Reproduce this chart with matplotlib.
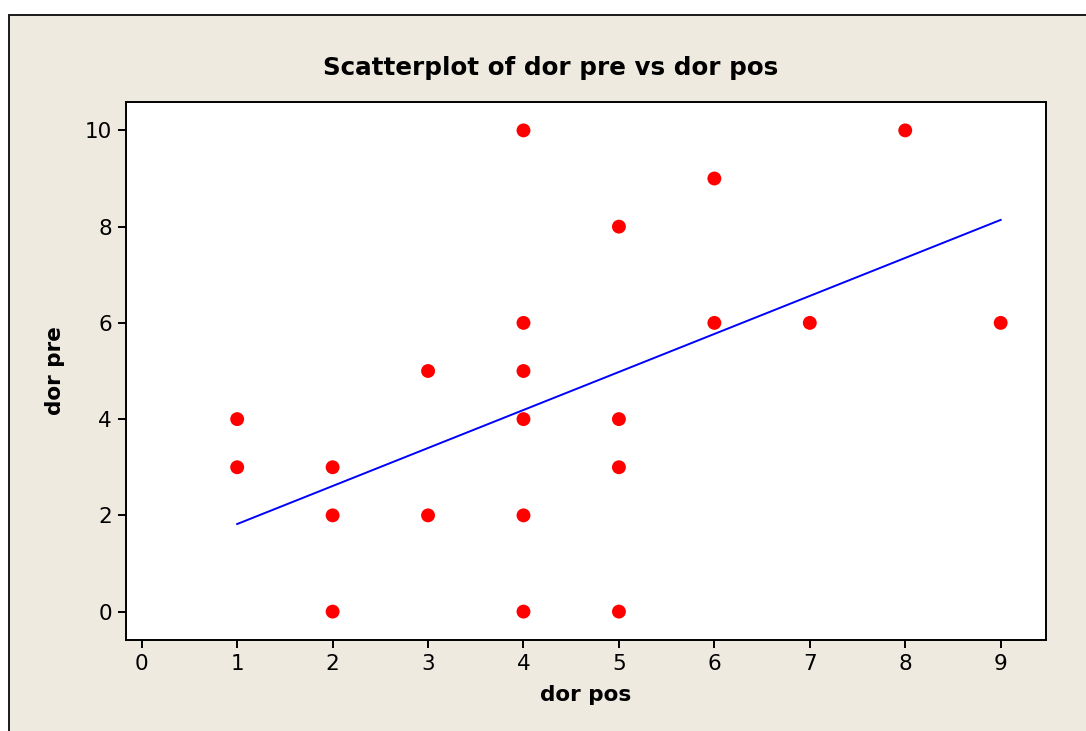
import matplotlib
matplotlib.use("Agg")
import matplotlib.pyplot as plt
from matplotlib.patches import Rectangle
import numpy as np

# Data
dor_pos = [1, 1, 2, 2, 2, 3, 3, 4, 4, 4, 4, 4, 4, 5, 5, 5, 5, 6, 6, 7, 8, 9]
dor_pre = [4, 3, 3, 2, 0, 5, 2, 10, 6, 5, 4, 2, 0, 8, 4, 3, 0, 9, 6, 6, 10, 6]
fit_intercept = 1.03
fit_slope = 0.79
x_ticks = [0, 1, 2, 3, 4, 5, 6, 7, 8, 9]
y_ticks = [0, 2, 4, 6, 8, 10]

W, H = 1086, 731
fig = plt.figure(figsize=(W / 100, H / 100), dpi=100, facecolor="white")

# outer beige panel with frame
fig.patches.append(Rectangle((9 / W, -0.1), 1.2, (H - 15) / H + 0.1,
                             transform=fig.transFigure, facecolor="#EEEAE0",
                             edgecolor="#1a1a1a", linewidth=1.4, zorder=-10))

ax = fig.add_axes([126 / W, (H - 640) / H, (1046 - 126) / W, (640 - 102) / H])
ax.set_facecolor("white")

ax.scatter(dor_pos, dor_pre, s=100, color="#FF0000", edgecolors="none", zorder=3)
xs = np.array([min(dor_pos), max(dor_pos)])
ax.plot(xs, fit_intercept + fit_slope * xs, color="#0000FF", linewidth=1.4, zorder=2)

ax.set_xlim(-0.165, 9.475)
ax.set_ylim(-0.59, 10.59)
ax.set_xticks(x_ticks)
ax.set_yticks(y_ticks)
ax.tick_params(direction="out", length=6, width=1.4, labelsize=15.5, pad=4, colors="black")
for sp in ax.spines.values():
    sp.set_linewidth(1.4)
    sp.set_color("black")

fig.text(551 / W, 1 - 68 / H, "Scatterplot of dor pre vs dor pos", fontsize=17.7,
         fontweight="bold", ha="center", va="center")
ax.set_xlabel("dor pos", fontsize=15.5, fontweight="bold", labelpad=8)
ax.set_ylabel("dor pre", fontsize=15.5, fontweight="bold", labelpad=14)

fig.savefig("out.png", dpi=100, facecolor="white")
